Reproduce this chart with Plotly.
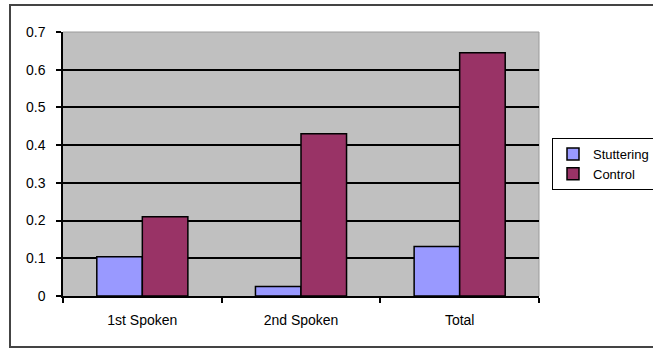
import plotly.graph_objects as go

categories = ["1st Spoken", "2nd Spoken", "Total"]
stuttering = [0.104, 0.025, 0.131]
control = [0.21, 0.43, 0.645]
y_ticks = [0, 0.1, 0.2, 0.3, 0.4, 0.5, 0.6, 0.7]

W, H = 653, 350
ML, MR, MT, MB = 63, 114, 32, 54
PW, PH = W - ML - MR, H - MT - MB

def px_x(x):
    return (x - ML) / PW

def px_y(y):
    return 1 - (y - MT) / PH

FONT = "Liberation Sans, Arial, sans-serif"
outline = dict(color="black", width=1.5)

fig = go.Figure()
fig.add_bar(x=categories, y=stuttering, name="Stuttering",
            marker=dict(color="#9999ff", line=outline))
fig.add_bar(x=categories, y=control, name="Control",
            marker=dict(color="#993366", line=outline))

fig.update_layout(
    width=W, height=H,
    margin=dict(l=ML, r=MR, t=MT, b=MB, pad=0, autoexpand=False),
    paper_bgcolor="white",
    plot_bgcolor="#c0c0c0",
    barmode="group", bargap=0.426, bargroupgap=0,
    font=dict(family=FONT, size=14, color="black"),
    showlegend=True,
    legend=dict(x=px_x(552), y=px_y(138), xanchor="left", yanchor="top",
                bordercolor="black", borderwidth=1, bgcolor="white",
                font=dict(size=13), tracegroupgap=0,
                itemwidth=30),
    xaxis=dict(showline=True, linecolor="black", linewidth=1.5,
               ticks="outside", tickson="boundaries", ticklen=5,
               tickcolor="black", tickwidth=1.5, showgrid=False,
               ticklabelstandoff=10, fixedrange=True),
    yaxis=dict(range=[0, 0.7], tickvals=y_ticks,
               ticktext=[f"{v:g}" for v in y_ticks],
               showline=True, linecolor="black", linewidth=1.5,
               ticks="outside", ticklen=5, tickcolor="black", tickwidth=1.5,
               ticklabelstandoff=8,
               showgrid=True, gridcolor="black", gridwidth=1.5,
               zeroline=False, fixedrange=True),
    shapes=[
        # light frame around the plot area on the right and top
        dict(type="line", xref="paper", yref="paper", x0=0, x1=1, y0=1, y1=1,
             line=dict(color="#9a9a9a", width=1), layer="below"),
        dict(type="line", xref="paper", yref="paper", x0=1, x1=1, y0=0, y1=1,
             line=dict(color="#9a9a9a", width=1), layer="below"),
        # outer chart border
        dict(type="rect", xref="paper", yref="paper",
             x0=px_x(10), x1=px_x(665), y0=px_y(347), y1=px_y(5),
             line=dict(color="#444444", width=2), layer="below"),
    ],
)

fig.write_html("out.html", config={"displayModeBar": False})
